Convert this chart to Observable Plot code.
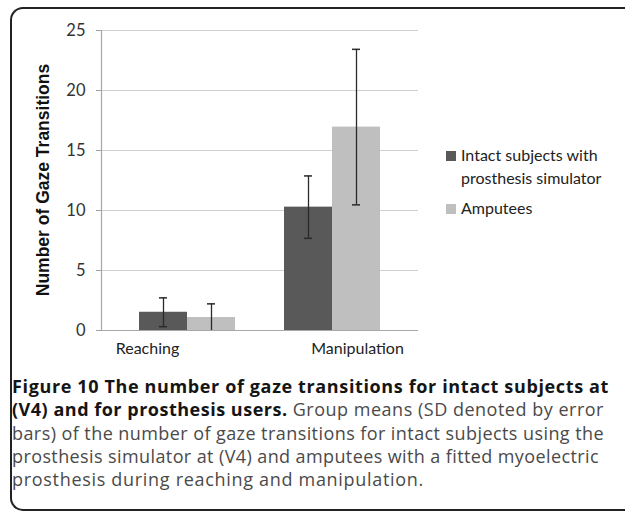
<!DOCTYPE html>
<html>
<head>
<meta charset="utf-8">
<script src="https://cdn.jsdelivr.net/npm/d3@7"></script>
<script src="https://cdn.jsdelivr.net/npm/@observablehq/plot@0.6"></script>
<style>
  html, body { margin: 0; padding: 0; background: #fff; }
  #wrap { position: relative; width: 625px; height: 514px; overflow: hidden; background: #fff; }
  #frame { position: absolute; left: 10px; top: 7px; width: 640px; height: 504px;
           border: 2px solid #222; border-right: none; border-radius: 13px 0 0 13px; box-sizing: border-box; }
  .layer { position: absolute; left: 0; top: 0; }
  #ytitle { position: absolute; left: 43px; top: 180px; transform: translate(-50%, -50%) rotate(-90deg);
            font-family: "Liberation Sans", Arial, sans-serif; font-weight: bold; font-size: 17.5px;
            white-space: nowrap; color: #111; }
  .leg { position: absolute; left: 446px; font-family: Lato, sans-serif; font-size: 16px; line-height: 23px; color: #222; }
  .leg .sw { position: absolute; left: 0; width: 10px; height: 10px; }
  .leg .tx { position: absolute; left: 15px; white-space: nowrap; }
  #caption { position: absolute; left: 12px; top: 375px; width: 612px;
             font-family: "Open Sans", sans-serif; font-size: 18px; line-height: 23.3px; color: #4a4a4a; }
  #caption .ln { white-space: nowrap; }
  #caption .ln span.in { display: inline-block; }
  #caption b { color: #151515; font-weight: 700; }
</style>
</head>
<body>
<div id="wrap">
  <div id="frame"></div>
  <div id="base" class="layer"></div>
  <div id="bars" class="layer"></div>
  <div id="ytitle"></div>
  <div id="legend"></div>
  <div id="caption"></div>
</div>
<script>
// ---- data ----
const categories = ["Reaching", "Manipulation"];
const series = ["Intact subjects with prosthesis simulator", "Amputees"];
const legendLines = [["Intact subjects with", "prosthesis simulator"], ["Amputees"]];
const seriesColors = ["#595959", "#bfbfbf"];
const meansIntact = [1.52, 10.28];
const sdIntact = [1.2, 2.6];
const meansAmputees = [1.08, 16.95];
const sdAmputees = [1.14, 6.48];
const yTicks = [0, 5, 10, 15, 20, 25];
const yTitle = "Number of Gaze Transitions";
const captionBold = ["Figure 10 The number of gaze transitions for intact subjects at", "(V4) and for prosthesis users."];
const captionRest = [" Group means (SD denoted by error", "bars) of the number of gaze transitions for intact subjects using the", "prosthesis simulator at (V4) and amputees with a fitted myoelectric", "prosthesis during reaching and manipulation."];

// ---- table ----
const rows = [];
categories.forEach((c, i) => {
  rows.push({category: c, series: series[0], mean: meansIntact[i], sd: sdIntact[i]});
  rows.push({category: c, series: series[1], mean: meansAmputees[i], sd: sdAmputees[i]});
});
rows.forEach(d => { d.lo = Math.max(0, d.mean - d.sd); d.hi = d.mean + d.sd; });

const common = {
  width: 625, height: 370,
  marginLeft: 101, marginRight: 207, marginTop: 30, marginBottom: 40,
  style: {fontFamily: "Lato, sans-serif", fontSize: "16px", color: "#333", background: "transparent"},
  y: {domain: [0, 25], axis: null}
};
const bandOpts = {domain: categories, paddingInner: 0.34, paddingOuter: 0.256, axis: null, label: null};

// base layer: grid, axes, category labels
const base = Plot.plot({
  ...common,
  x: {...bandOpts},
  marks: [
    Plot.ruleY(yTicks.filter(t => t > 0), {stroke: "#d0d0d0", strokeWidth: 1.2, strokeOpacity: 1}),
    Plot.axisY({ticks: yTicks, tickSize: 5, tickPadding: 11, stroke: "#a0a0a0", strokeOpacity: 1, label: null, fill: "#333", fontSize: 16.5}),
    Plot.frame({anchor: "left", stroke: "#a8a8a8", strokeWidth: 1.2}),
    Plot.ruleY([0], {stroke: "#a8a8a8", strokeWidth: 1.2}),
    Plot.text([categories[0]], {x: d => d, text: d => d, frameAnchor: "bottom", lineAnchor: "top", dy: 12, dx: -34, fill: "#222"}),
    Plot.text([categories[1]], {x: d => d, text: d => d, frameAnchor: "bottom", lineAnchor: "top", dy: 12, dx: 18, fill: "#222"})
  ]
});
document.getElementById("base").appendChild(base);

// bars layer: grouped bars with error bars
const bars = Plot.plot({
  ...common,
  fx: {...bandOpts},
  x: {domain: series, padding: 0, axis: null},
  color: {domain: series, range: seriesColors},
  marks: [
    Plot.barY(rows, {fx: "category", x: "series", y: "mean", fill: "series"}),
    Plot.ruleX(rows, {fx: "category", x: "series", y1: "lo", y2: "hi", stroke: "#2a2a2a", strokeWidth: 1.3}),
    Plot.tickY(rows, {fx: "category", x: "series", y: "hi", insetLeft: 20, insetRight: 20, stroke: "#2a2a2a", strokeWidth: 1.5}),
    Plot.tickY(rows.filter(d => d.mean - d.sd > 0), {fx: "category", x: "series", y: "lo", insetLeft: 20, insetRight: 20, stroke: "#2a2a2a", strokeWidth: 1.5})
  ]
});
document.getElementById("bars").appendChild(bars);

document.getElementById("ytitle").textContent = yTitle;

// legend
const legend = document.getElementById("legend");
const legTops = [143, 196];
legendLines.forEach((lines, i) => {
  const g = document.createElement("div");
  g.className = "leg";
  g.style.top = legTops[i] + "px";
  const sw = document.createElement("div");
  sw.className = "sw";
  sw.style.background = seriesColors[i];
  sw.style.top = "8px";
  g.appendChild(sw);
  lines.forEach((t, j) => {
    const tx = document.createElement("div");
    tx.className = "tx";
    tx.style.top = (j * 23) + "px";
    tx.textContent = t;
    g.appendChild(tx);
  });
  legend.appendChild(g);
});

// caption (each line fitted to the width it has in the reference)
const cap = document.getElementById("caption");
const lineWidths = [597, 592, 592, 587, 412];
const lines = [];
function addLine(parts) {
  const ln = document.createElement("div"); ln.className = "ln";
  const inner = document.createElement("span"); inner.className = "in";
  parts.forEach(([txt, bold]) => {
    if (bold) { const b = document.createElement("b"); b.textContent = txt; inner.appendChild(b); }
    else inner.appendChild(document.createTextNode(txt));
  });
  ln.appendChild(inner); cap.appendChild(ln); lines.push(inner);
}
addLine([[captionBold[0], true]]);
addLine([[captionBold[1], true], [captionRest[0], false]]);
captionRest.slice(1).forEach(t => addLine([[t, false]]));
lines.forEach((el, i) => {
  const target = lineWidths[i];
  const w = el.getBoundingClientRect().width;
  const n = el.textContent.length;
  el.style.letterSpacing = ((target - w) / n).toFixed(3) + "px";
});
</script>
</body>
</html>
